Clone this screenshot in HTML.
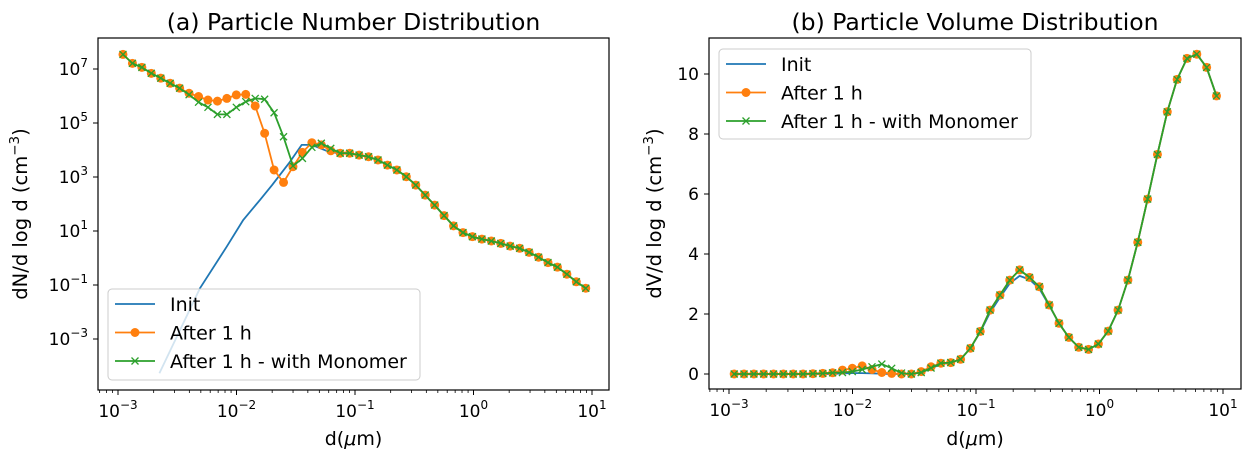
<!DOCTYPE html>
<html><head><meta charset="utf-8"><style>
body{margin:0;background:#fff}
svg{display:block;font-family:"DejaVu Sans","Liberation Sans",sans-serif}
</style></head><body>
<svg id="c" width="1255" height="460" viewBox="0 0 1255 460" xmlns="http://www.w3.org/2000/svg"></svg>
<script>
// ---- data ----
const logD0 = -2.958, dLogD = 0.0797, nPts = 50; // diameter grid (log10 µm)
const numOrange = [7.54,7.21,7.06,6.84,6.66,6.47,6.29,6.10,5.98,5.85,5.81,5.91,6.04,6.06,5.63,4.62,3.26,2.80,3.38,3.91,4.27,4.19,3.97,3.88,3.88,3.81,3.75,3.63,3.44,3.26,3.01,2.70,2.33,1.96,1.57,1.19,0.94,0.79,0.70,0.63,0.54,0.44,0.36,0.21,0.03,-0.17,-0.34,-0.60,-0.88,-1.12];
const numGreen = [7.54,7.21,7.06,6.84,6.66,6.47,6.29,6.05,5.77,5.58,5.32,5.32,5.58,5.79,5.91,5.88,5.38,4.49,3.41,3.69,4.10,4.25,4.06,3.88,3.88,3.81,3.75,3.63,3.44,3.26,3.01,2.70,2.33,1.96,1.57,1.19,0.94,0.79,0.70,0.63,0.54,0.44,0.36,0.21,0.03,-0.17,-0.34,-0.60,-0.88,-1.12];
const initHeadLogD = [-2.651,-2.480,-2.308,-2.083,-1.943,-1.802,-1.700,-1.549,-1.450,-1.365,-1.211];
const initLogN = [-4.27,-2.70,-1.12,0.42,1.41,2.15,2.70,3.56,4.19,4.19,3.92,3.88,3.88,3.81,3.75,3.63,3.44,3.26,3.01,2.70,2.33,1.96,1.57,1.19,0.94,0.79,0.70,0.63,0.54,0.44,0.36,0.21,0.03,-0.17,-0.34,-0.60,-0.88,-1.12];
const volOrange = [0,0,0,0,0,0,0,0,0.01,0.02,0.04,0.13,0.19,0.27,0.15,0.05,0.02,0,0,0.08,0.24,0.36,0.38,0.49,0.86,1.42,2.13,2.63,3.13,3.47,3.22,2.91,2.30,1.69,1.22,0.89,0.82,1.00,1.43,2.13,3.13,4.39,5.83,7.32,8.74,9.82,10.52,10.66,10.22,9.27];
const volGreen = [0,0,0,0,0,0,0,0,0.01,0.02,0.04,0.05,0.08,0.15,0.24,0.33,0.19,0.03,0,0.05,0.20,0.36,0.38,0.49,0.86,1.42,2.13,2.63,3.13,3.47,3.22,2.91,2.30,1.69,1.22,0.89,0.82,1.00,1.43,2.13,3.13,4.39,5.83,7.32,8.74,9.82,10.52,10.66,10.22,9.27];
const volInit = [0,0,0,0,0,0,0,0,0,0,0,0.02,0.03,0.03,0.02,0.01,0,0,0,0.05,0.18,0.33,0.38,0.49,0.86,1.40,2.05,2.55,3.02,3.27,3.15,2.85,2.28,1.69,1.22,0.89,0.82,1.00,1.43,2.13,3.13,4.39,5.83,7.32,8.74,9.82,10.52,10.66,10.22,9.27];
const xTickExp = [-3,-2,-1,0,1];
const yTickExpL = [-3,-1,1,3,5,7];
const yTickR = [0,2,4,6,8,10];

const NS="http://www.w3.org/2000/svg", svg=document.getElementById('c');
function mk(tag,attrs,parent,text){const e=document.createElementNS(NS,tag);for(const k in attrs)e.setAttribute(k,attrs[k]);if(text!==undefined)e.textContent=text;(parent||svg).appendChild(e);return e;}
const C={b:'#1f77b4',o:'#ff7f0e',g:'#2ca02c'};
const grid=[];for(let i=0;i<nPts;i++)grid.push(logD0+dLogD*i);
const initLogD=initHeadLogD.concat(grid.slice(23));
const FT=17, FS=12;

function panel(P){
  const g=mk('g',{});
  
  
  const t=mk('text',{x:(P.x0+P.x1)/2,y:30,'font-size':23.5,'text-anchor':'middle'},g,P.title);
  
  
  const cid='clip'+P.name;
  const cp=mk('clipPath',{id:cid},g);mk('rect',{x:P.x0,y:P.y0,width:P.x1-P.x0,height:P.y1-P.y0},cp);
  for(let k=0;k<xTickExp.length;k++){
    const e=xTickExp[k],px=P.sx(e);
    mk('line',{x1:px,x2:px,y1:P.y1,y2:P.y1+5,stroke:'#000','stroke-width':1},g);
    const tx=mk('text',{x:px,y:P.y1+27,'font-size':FT,'text-anchor':'middle'},g);
    
    
    tx.appendChild(document.createTextNode('10'));
    mk('tspan',{dy:-8,'font-size':FS},tx,String(e).replace('-','\u2212'));
    if(k<xTickExp.length-1)for(let m=2;m<10;m++){const mx=P.sx(e+Math.log10(m));mk('line',{x1:mx,x2:mx,y1:P.y1,y2:P.y1+3,stroke:'#000','stroke-width':0.8},g);}
  }
  for(let m=5;m<10;m++){const mx=P.sx(-4+Math.log10(m));if(mx>P.x0)mk('line',{x1:mx,x2:mx,y1:P.y1,y2:P.y1+3,stroke:'#000','stroke-width':0.8},g);}
  for(const v of P.yt){
    const py=P.sy(v);
    mk('line',{x1:P.x0-5,x2:P.x0,y1:py,y2:py,stroke:'#000','stroke-width':1},g);
    const ty=mk('text',{x:P.x0-10,y:py+6,'font-size':FT,'text-anchor':'end'},g);
    
    
    if(P.log){ty.appendChild(document.createTextNode('10'));mk('tspan',{dy:-8,'font-size':FS},ty,String(v).replace('-','\u2212'));}
    else ty.textContent=String(v);
  }
  const xl=mk('text',{x:(P.x0+P.x1)/2,y:445,'font-size':19,'text-anchor':'middle'},g);
  
  
  xl.appendChild(document.createTextNode('d('));mk('tspan',{'font-style':'italic'},xl,'\u03bc');xl.appendChild(document.createTextNode('m)'));
  const yl=mk('text',{x:0,y:0,'font-size':19.5,'text-anchor':'middle',transform:`translate(${P.ylx},${(P.y0+P.y1)/2}) rotate(-90)`},g);
  
  
  yl.appendChild(document.createTextNode(P.ylab+' (cm'));mk('tspan',{dy:-8,'font-size':13.5},yl,'\u22123');mk('tspan',{dy:8},yl,')');
  const sg=mk('g',{'clip-path':`url(#${cid})`},g);
  function line(xs,ys,col,nm){const p=mk('polyline',{points:xs.map((x,i)=>P.sx(x).toFixed(1)+','+P.sy(ys[i]).toFixed(1)).join(' '),fill:'none',stroke:col,'stroke-width':1.8,'stroke-linejoin':'round'},sg);}
  line(P.bx,P.by,C.b,'init-line');
  line(grid,P.oy,C.o,'after-1h-line');
  for(let i=0;i<nPts;i++){const c=mk('circle',{cx:P.sx(grid[i]),cy:P.sy(P.oy[i]),r:4.5,fill:C.o},sg);}
  line(grid,P.gy,C.g,'with-monomer-line');
  for(let i=0;i<nPts;i++){const x=P.sx(grid[i]),y=P.sy(P.gy[i]);const m=mk('path',{d:`M${x-3.5},${y-3.5}L${x+3.5},${y+3.5}M${x-3.5},${y+3.5}L${x+3.5},${y-3.5}`,stroke:C.g,'stroke-width':1.3},sg);}
  mk('rect',{x:P.x0,y:P.y0,width:P.x1-P.x0,height:P.y1-P.y0,fill:'none',stroke:'#000','stroke-width':1.2},g);
  const L=P.leg,lg=mk('g',{},g);
  
  
  mk('rect',{x:L.x,y:L.y,width:L.w,height:L.h,rx:4,fill:'#fff','fill-opacity':0.8,stroke:'#ccc'},lg);
  const names=['Init','After 1 h','After 1 h - with Monomer'],cols=[C.b,C.o,C.g];
  for(let i=0;i<3;i++){
    const yy=L.y+15+i*28.5,e=mk('g',{},lg);
    
    
    mk('line',{x1:L.x+7,x2:L.x+47,y1:yy,y2:yy,stroke:cols[i],'stroke-width':1.8},e);
    if(i==1)mk('circle',{cx:L.x+27,cy:yy,r:4.5,fill:C.o},e);
    if(i==2)mk('path',{d:`M${L.x+23.5},${yy-3.5}l7,7m-7,0l7,-7`,stroke:C.g,'stroke-width':1.3},e);
    mk('text',{x:L.x+62,y:yy+7,'font-size':19},e,names[i]);
  }
}
panel({name:'number-panel',title:'(a) Particle Number Distribution',x0:98,x1:609,y0:38,y1:390,log:true,
  sx:l=>118+(l+3)*118.5, sy:v=>339-(v+3)*27, yt:yTickExpL, ylx:27, ylab:'dN/d log d',
  bx:initLogD,by:initLogN,oy:numOrange,gy:numGreen,leg:{x:108,y:289,w:312,h:91}});
panel({name:'volume-panel',title:'(b) Particle Volume Distribution',x0:709,x1:1241,y0:38,y1:389,log:false,
  sx:l=>729+(l+3)*123.5, sy:v=>374-v*30, yt:yTickR, ylx:661, ylab:'dV/d log d',
  bx:grid,by:volInit,oy:volOrange,gy:volGreen,leg:{x:719,y:49,w:312,h:90}});
</script>
</body></html>
